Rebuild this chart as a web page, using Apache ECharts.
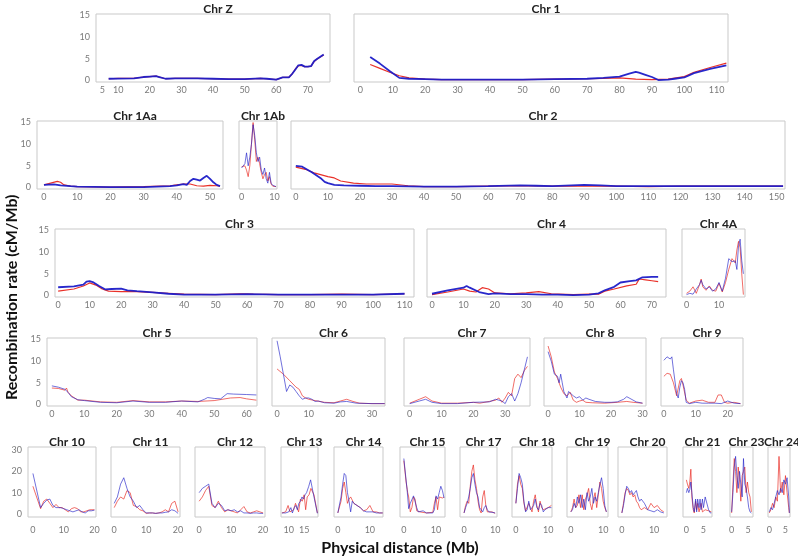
<!DOCTYPE html>
<html><head><meta charset="utf-8">
<script src="https://cdn.jsdelivr.net/npm/echarts@6/dist/echarts.min.js"></script>
<style>html,body{margin:0;padding:0;background:#fff}#c{width:798px;height:559px}</style>
</head><body><div id="c"></div>
<script>
// ---- Data: [position (Mb), recombination rate (cM/Mb)] ----
const chrZ_red  = [[7,0.4],[10,0.5],[15,0.5],[18,0.8],[20,0.9],[22,1.0],[23,0.8],[25,0.4],[28,0.5],[30,0.5],[35,0.5],[40,0.4],[45,0.3],[50,0.3],[55,0.5],[57,0.4],[60,0.2],[62,0.7],[64,0.7],[65,1.5],[66,2.6],[67,3.4],[68,3.5],[69,3.2],[70,3.2],[71,3.3],[72,4.4],[73,5.0],[75,5.9]];
const chrZ_blue = [[7,0.4],[10,0.45],[15,0.5],[18,0.8],[20,0.9],[22,1.0],[23,0.8],[25,0.4],[28,0.5],[30,0.5],[35,0.5],[40,0.4],[45,0.3],[50,0.3],[55,0.5],[57,0.4],[60,0.2],[62,0.7],[64,0.7],[65,1.5],[66,2.5],[67,3.5],[68,3.6],[69,3.2],[70,3.2],[71,3.3],[72,4.5],[73,5.0],[75,6.0]];
const chr1_red  = [[3,3.7],[6,2.8],[9,1.9],[12,1.1],[15,0.6],[20,0.3],[25,0.2],[30,0.2],[40,0.2],[50,0.2],[60,0.3],[70,0.4],[75,0.5],[80,0.6],[85,0.3],[90,0.2],[95,0.3],[100,0.9],[103,1.9],[108,3.0],[113,4.0]];
const chr1_blue = [[3,5.4],[6,3.9],[9,2.2],[12,0.6],[15,0.4],[20,0.3],[25,0.2],[30,0.2],[40,0.2],[50,0.2],[60,0.3],[70,0.4],[75,0.6],[80,0.9],[83,1.6],[85,2.0],[86,1.8],[88,1.3],[90,0.8],[92,0.1],[95,0.2],[97,0.4],[100,0.7],[103,1.7],[108,2.7],[113,3.5]];
const chr1Aa_red  = [[0,0.6],[2,1.0],[4,1.4],[5,1.2],[6,0.6],[8,0.3],[10,0.2],[20,0.1],[30,0.2],[38,0.4],[40,0.6],[42,0.8],[44,0.8],[46,0.4],[48,0.3],[50,0.5],[52,0.4],[53,0.3]];
const chr1Aa_blue = [[0,0.6],[3,0.7],[5,0.5],[8,0.3],[10,0.2],[20,0.1],[30,0.1],[38,0.3],[40,0.5],[42,0.8],[43,0.6],[44,1.5],[45,2.0],[46,1.8],[47,1.6],[48,2.2],[49,2.7],[50,2.0],[51,1.2],[52,0.6],[53,0.3]];
const chr1Ab_red  = [[0,4.8],[1,5.0],[1.5,4],[2,2.5],[2.5,5],[3,10],[3.5,15],[4,11],[4.5,6],[5,7],[5.5,5.5],[6,3.5],[6.5,2],[7,3],[7.5,3.5],[8,1.5],[8.5,2.5],[9,0.8],[9.5,0.3],[10,0.2],[10.5,0.2]];
const chr1Ab_blue = [[0,4.5],[1,5.5],[1.5,8],[2,5],[2.5,7],[3,10],[3.5,14.5],[4,12],[4.5,8],[5,6],[5.5,7],[6,4],[6.5,3],[7,4.5],[7.5,2],[8,1],[8.5,3.5],[9,1],[9.5,0.5],[10,0.2],[10.5,0.2]];
const chr2_red  = [[0,4.7],[3,4.2],[6,3.3],[10,2.5],[12,2.2],[14,1.5],[18,1.0],[22,0.8],[30,0.8],[35,0.4],[40,0.2],[50,0.2],[60,0.3],[70,0.4],[80,0.3],[90,0.3],[100,0.3],[110,0.2],[120,0.3],[130,0.3],[140,0.3],[152,0.3]];
const chr2_blue = [[0,5.0],[2,4.8],[5,3.5],[8,2.0],[9,1.3],[10,1.0],[12,0.6],[15,0.5],[20,0.4],[25,0.3],[30,0.3],[40,0.2],[50,0.2],[60,0.3],[70,0.5],[75,0.4],[80,0.3],[90,0.6],[95,0.5],[100,0.3],[110,0.3],[120,0.3],[130,0.3],[140,0.3],[152,0.3]];
const chr3_red  = [[0,1.0],[5,1.5],[8,2.2],[10,2.9],[12,2.4],[14,1.5],[16,1.0],[20,0.9],[25,0.9],[30,0.7],[35,0.5],[40,0.3],[50,0.2],[58,0.4],[62,0.3],[70,0.2],[80,0.2],[90,0.3],[100,0.2],[110,0.4]];
const chr3_blue = [[0,1.9],[5,2.1],[8,2.5],[9,3.2],[10,3.3],[11,3.1],[13,2.2],[15,1.4],[17,1.5],[20,1.6],[22,1.2],[25,1.0],[30,0.7],[35,0.4],[40,0.2],[50,0.2],[60,0.3],[70,0.2],[80,0.2],[90,0.2],[100,0.2],[110,0.4]];
const chr4_red  = [[0,0.2],[5,0.8],[10,1.5],[12,1.0],[14,0.8],[16,1.8],[18,1.5],[20,0.6],[25,0.4],[30,0.6],[34,0.9],[38,0.4],[45,0.2],[50,0.3],[53,0.3],[55,1.0],[58,1.5],[62,2.2],[65,2.6],[66,3.8],[68,3.6],[70,3.4],[72,3.2]];
const chr4_blue = [[0,0.4],[5,1.2],[10,1.8],[11,2.2],[12,1.8],[15,0.8],[18,0.3],[20,0.5],[25,0.3],[30,0.3],[35,0.2],[40,0.2],[45,0.1],[50,0.2],[53,0.5],[55,1.2],[58,2.0],[60,3.0],[63,3.3],[65,3.5],[67,4.2],[70,4.3],[72,4.3]];
const chr4A_red  = [[0,0.5],[1,1.0],[2,2.0],[3,0.5],[4,2.5],[4.5,3.8],[5,2.0],[6,1.2],[7,2.2],[8,1.2],[9,1.0],[10,2.8],[11,0.8],[12,3.0],[13,6.0],[14,8.5],[15,7.5],[15.5,10.5],[16,12.5],[16.5,11.0],[17,5.0],[17.5,0.2]];
const chr4A_blue = [[0,0.2],[1,0.5],[2,0.3],[3,1.5],[4,2.5],[4.5,3.5],[5,2.5],[6,1.5],[7,2.0],[8,1.0],[9,1.5],[10,3.0],[11,1.0],[12,4.0],[13,8.5],[14,7.8],[15,8.0],[15.5,6.0],[16,11.5],[16.5,13.0],[17,8.0],[17.5,5.0]];
const chr5_red  = [[0,3.8],[2,3.7],[4,3.3],[4.5,3.8],[5,2.8],[6,2.0],[8,1.0],[10,1.0],[15,0.6],[20,0.5],[25,0.9],[30,0.6],[35,0.6],[40,0.8],[45,0.7],[50,0.9],[55,1.5],[58,1.6],[60,1.3],[63,1.0]];
const chr5_blue = [[0,4.3],[2,4.0],[4,3.5],[5,2.8],[6,1.8],[8,1.1],[10,0.9],[15,0.5],[20,0.4],[25,0.8],[30,0.5],[35,0.5],[40,0.8],[45,0.6],[47,1.2],[48,1.6],[50,1.4],[52,1.3],[54,2.5],[56,2.4],[60,2.3],[63,2.2]];
const chr6_red  = [[0,8.2],[2,7.0],[4,5.5],[6,4.0],[7,3.5],[8,2.0],[9,1.5],[10,1.2],[12,0.9],[15,0.5],[18,0.4],[20,0.8],[22,1.2],[24,0.7],[26,0.3],[30,0.2],[34,0.2]];
const chr6_blue = [[0,14.7],[1,11],[2,7],[3,3.0],[4,4.5],[5,4.0],[6,3.0],[7,2.0],[8,1.2],[9,1.5],[10,1.5],[11,1.2],[12,0.7],[13,0.8],[15,0.4],[18,0.3],[20,0.6],[22,0.7],[25,0.3],[30,0.2],[34,0.2]];
const chr7_red  = [[0,0.3],[3,1.2],[5,1.8],[7,0.8],[10,0.3],[15,0.3],[20,0.5],[22,0.3],[25,0.7],[27,1.0],[28,1.5],[29,0.5],[30,1.5],[31,2.8],[32,2.0],[33,6.0],[34,7.0],[35,6.2],[36,7.8],[37,8.8]];
const chr7_blue = [[0,0.2],[3,0.8],[5,1.2],[7,0.5],[10,0.2],[15,0.2],[20,0.5],[25,0.6],[27,1.2],[28,1.0],[29,0.8],[30,0.2],[31,1.8],[32,2.5],[33,0.8],[34,2.5],[35,5.0],[36,8.0],[37,11.0]];
const chr8_red  = [[0,13.5],[1,11],[2,7.5],[3,6],[4,4],[5,2.5],[6,2.0],[7,2.8],[8,1.0],[9,0.5],[10,0.8],[11,1.0],[12,0.5],[14,0.4],[18,0.3],[20,0.4],[22,0.5],[25,0.7],[27,0.5],[30,0.3]];
const chr8_blue = [[0,12.2],[1,10],[2,7],[3,6.5],[3.5,5],[4,7],[4.5,5],[5,3],[6,1.5],[6.5,3],[7,3],[8,2],[9,1.5],[10,1.8],[11,1.0],[12,1.5],[13,1.2],[15,0.7],[18,0.5],[20,0.5],[22,0.6],[24,1.2],[25,1.8],[26,1.4],[28,0.6],[30,0.3]];
const chr9_red  = [[0,6.5],[1,7.2],[2,7.0],[3,5.0],[4,2.0],[5,5.5],[5.5,6.0],[6,4.5],[7,1.0],[8,0.3],[10,0.8],[12,1.0],[14,0.5],[16,0.5],[17,2.2],[18,2.2],[19,0.5],[20,0.3],[22,0.5],[24,0.2]];
const chr9_blue = [[0,10.2],[1,11],[2,10.5],[2.5,11],[3,8],[4,2.5],[4.5,1.5],[5,4.0],[5.5,5.5],[6,5.0],[6.5,3.5],[7,0.5],[8,0.2],[10,0.5],[12,0.3],[14,0.3],[16,0.3],[18,0.2],[20,0.8],[22,0.3],[24,0.2]];
const chr10_red  = [[0,13],[2.5,2.5],[3.5,6],[4.5,7],[5.5,5],[6.5,3],[7.5,4.5],[8.5,3],[9.5,3],[10.5,2],[11.5,1],[12.5,2.5],[13.5,3],[14.5,2.5],[15.5,1],[16.5,1],[17.5,1.5],[18.5,2],[20,2]];
const chr10_blue = [[0,19],[2.5,3],[3.5,5],[4.5,6.5],[5.5,7],[6.5,4],[7.5,3],[9,3],[10,2.5],[11,2],[12,1.5],[13,1],[14,1.5],[15,2],[16,1],[17,0.5],[18,1.5],[19,1.5],[20,1.8]];
const chr11_red  = [[0,3],[1,6],[2,8],[3,7],[4,11],[5,10],[6,4],[7,3.5],[8,2],[9,1.5],[10,0.3],[11,0.5],[12,0.5],[13,0.3],[14,0.5],[15,1],[16,2],[17,1],[18,5],[19,6],[20,1]];
const chr11_blue = [[0,5],[1,8],[2,14],[3,17],[4,12],[5,8],[6,6],[7,3],[8,4],[9,2],[10,0.5],[11,0.5],[12,0.5],[13,0.3],[14,0.5],[15,0.5],[16,0.8],[17,1],[18,2],[19,1.5],[20,0.3]];
const chr12_red  = [[0,6],[1,8],[2,11],[3,13],[4,4],[5,3],[6,6],[7,3],[8,1],[9,2],[10,1.5],[11,1],[12,0.5],[13,2],[14,3.5],[15,1],[16,0.5],[17,1],[18,1.5],[19,1],[20,0.5]];
const chr12_blue = [[0,10],[1,12],[2,13],[3,14],[4,5],[5,3],[6,5],[7,4],[8,1.5],[9,2],[10,1.5],[11,2],[12,1],[13,1.5],[14,0.5],[15,0.5],[16,0.3],[17,0.5],[18,0.5],[19,0.3],[20,0.3]];
const chr13_red  = [[7.8,0.5],[9,1],[9.8,4],[10.4,1],[11,0.5],[11.6,2],[12.2,5],[12.7,3],[13.2,1],[13.8,7],[14.4,6],[15,9],[15.5,2],[16,8],[16.6,9],[17.2,12],[18.2,9],[19.3,0.5]];
const chr13_blue = [[7.8,0.5],[9,0.5],[10,1],[10.7,3],[11.2,0.5],[11.8,3],[12.3,4],[12.8,2],[13.3,5],[13.8,6],[14.3,8],[14.8,7],[15.3,9],[15.8,10],[16.5,13],[17.1,16],[18.2,8],[19.3,0.3]];
const chr14_red  = [[0,0.5],[1,6],[1.5,12],[2,15],[2.5,10],[3,5],[3.5,7],[4,8],[5,5],[6,4],[7,3],[8,1.5],[9,2],[10,4],[11,1],[12,1],[13,0.5],[14,0.5]];
const chr14_blue = [[0,0.5],[1,8],[1.5,14],[2,19],[2.5,18],[3,10],[3.5,6],[4,1],[4.5,6],[5,5],[6,4],[7,3],[8,1.5],[9,1],[10,1],[11,1],[12,0.5],[13,0.5],[14,0.5]];
const chr15_red  = [[0,25],[0.7,15],[1.2,10],[1.5,8],[2,1],[2.5,3],[3,8],[3.5,7],[4,1.5],[4.5,1],[5,1],[7,0.5],[9,0.8],[9.5,5],[10,8],[10.5,2],[11,8],[11.5,8],[12,7.5],[12.5,8]];
const chr15_blue = [[0,26],[1,11.5],[1.5,2.5],[2,5],[3,8.5],[4,3],[4.5,1],[5,0.8],[6,1.5],[7,0.5],[8,0.5],[9,0.5],[9.5,2],[10,8.5],[10.5,7],[11,10],[11.5,13],[12,11],[12.5,7.5]];
const chr17_red  = [[0,0.5],[0.5,4],[1,6],[1.5,5],[2,13],[2.5,20],[3,23],[3.5,16],[4,12],[4.5,6],[5,2],[5.5,0.5],[6,8],[6.5,11],[7,4],[7.5,1],[8,1.5],[9,1],[10,0.3]];
const chr17_blue = [[0,0.5],[0.5,3],[1,5],[1.5,8],[2,12],[2.5,17],[3,19],[3.5,14],[4,10],[4.5,8],[5,3],[5.5,3],[6,1],[6.5,3],[7,4],[7.5,2],[8,1],[9,0.8],[10,0.5]];
const chr18_red  = [[0,5],[0.5,14],[1,18],[1.5,14],[2,12],[2.5,5],[3,1.5],[3.5,2],[4,5],[4.5,3],[5,1],[5.5,6],[6,9],[6.5,4],[7,1],[7.5,6],[8,3],[8.5,2],[9,2],[10,3],[11,4]];
const chr18_blue = [[0,5],[0.5,12],[1,19],[1.5,17],[2,14],[2.5,6],[3,1],[3.5,2],[4,6],[4.5,2],[5,1.5],[5.5,4],[6,7],[6.5,3],[7,2],[7.5,5],[8,4],[8.5,1],[9,2],[10,3],[11,3]];
const chr19_red  = [[0,1],[0.5,3],[1,7],[1.5,3],[2,4],[2.5,9],[3,3],[3.5,9],[4,2],[4.5,7],[5,9],[5.5,12],[6,5],[6.5,2],[7,7],[7.5,10],[8,3],[8.5,9],[9,15],[9.5,12],[10,6],[10.5,3],[11,1]];
const chr19_blue = [[0,1],[0.5,2],[1,5],[1.5,3],[2,8],[2.5,5],[3,9],[3.5,3],[4,7],[4.5,2],[5,10],[5.5,6],[6,8],[6.5,12],[7,5],[7.5,8],[8,6],[8.5,10],[9,14],[9.5,17],[10,12],[10.5,4],[11,1]];
const chr20_red  = [[0,0.5],[0.5,5],[1,10],[1.5,12],[2,11],[2.5,9],[3,10],[3.5,8],[4,9],[4.5,6],[5,5],[5.5,3],[6,2],[7,3],[8,2],[9,5],[10,3],[11,4],[12,2],[13,1]];
const chr20_blue = [[0,0.5],[0.5,4],[1,9],[1.5,13],[2,12],[2.5,10],[3,11],[3.5,9],[4,10],[4.5,11],[5,8],[5.5,6],[6,7],[7,5],[8,2],[9,1.5],[10,1],[11,2],[12,1],[13,0.5]];
const chr21_red  = [[0,16],[0.3,14],[0.7,12],[1,15],[1.3,21],[1.6,8],[2,2],[2.3,0.5],[2.7,6],[3,2],[3.3,5],[3.7,1],[4,3],[4.3,5],[4.7,1],[5,1],[5.5,2],[6,1.5],[6.5,1.5],[7,1],[7.3,1]];
const chr21_blue = [[0,10],[0.3,12],[0.7,10],[1,11.5],[1.3,15],[1.6,10],[2,3],[2.3,1],[2.7,7],[3,1],[3.3,7],[3.7,3],[4,7],[4.3,2],[4.7,7],[5,3],[5.5,8],[6,8],[6.5,2],[7,0.5],[7.3,0.5]];
const chr23_red  = [[0,0.5],[0.4,14],[0.8,26],[1.2,20],[1.6,10],[2,22],[2.4,16],[2.8,6],[3.2,18],[3.6,20],[4,22],[4.4,10],[4.8,15],[5.2,10],[5.6,8],[6,1]];
const chr23_blue = [[0,1],[0.4,10],[0.8,22],[1.2,27],[1.6,18],[2,12],[2.4,20],[2.8,14],[3.2,8],[3.6,26],[4,14],[4.4,12],[4.8,8],[5.2,3],[5.6,1],[6,0.5]];
const chr24_red  = [[0,0.5],[0.5,2],[1,5],[1.5,3],[2,8],[2.5,6],[3,27],[3.5,10],[4,15],[4.5,9],[5,18],[5.5,10],[6,3],[6.2,0.5]];
const chr24_blue = [[0,1],[0.5,3],[1,2],[1.5,5],[2,8],[2.5,11],[3,9],[3.5,12],[4,10],[4.5,16],[5,14],[5.5,17],[6,8],[6.2,0.5]];

// tick labels
const ticksY15 = [0,5,10,15];
const ticksY30 = [0,10,20,30];
const ticksZ = [5,10,20,30,40,50,60,70];
const ticks0to110 = [0,10,20,30,40,50,60,70,80,90,100,110];
const ticks0to50 = [0,10,20,30,40,50];
const ticks0to150 = [0,10,20,30,40,50,60,70,80,90,100,110,120,130,140,150];
const ticks0to70 = [0,10,20,30,40,50,60,70];
const ticks0to60 = [0,10,20,30,40,50,60];
const ticks0to30 = [0,10,20,30];
const ticks0to20 = [0,10,20];
const ticks0to10 = [0,10];
const ticks0to5 = [0,5];
const ticks10to15 = [10,15];

// ---- Layout (positions/styles only) ----
// name, red, blue, xmin, xmax, xticks, left, top, width, height, row, showY
const R1 = 14, R2 = 121, R3 = 229, R4 = 338, R5 = 447;
const panels = [
  ['Chr Z', chrZ_red, chrZ_blue, 3, 77, ticksZ, 96, R1, 234, 68, 1, true],
  ['Chr 1', chr1_red, chr1_blue, -2, 113.5, ticks0to110, 354, R1, 374, 68, 1, false],
  ['Chr 1Aa', chr1Aa_red, chr1Aa_blue, -2.1, 53.9, ticks0to50, 37, R2, 186, 68, 2, true],
  ['Chr 1Ab', chr1Ab_red, chr1Ab_blue, -0.8, 10.8, ticks0to10, 239, R2, 38, 68, 2, false],
  ['Chr 2', chr2_red, chr2_blue, -1.5, 152.6, ticks0to150, 291, R2, 494, 68, 2, false],
  ['Chr 3', chr3_red, chr3_blue, -1, 113, ticks0to110, 55, R3, 359, 68, 3, true],
  ['Chr 4', chr4_red, chr4_blue, -1.6, 74.5, ticks0to70, 427, R3, 239, 68, 3, false],
  ['Chr 4A', chr4A_red, chr4A_blue, -1.4, 18, ticks0to10, 682, R3, 63, 68, 3, false],
  ['Chr 5', chr5_red, chr5_blue, -1.5, 63.2, ticks0to60, 47, R4, 210, 68, 4, true],
  ['Chr 6', chr6_red, chr6_blue, -1.6, 34.1, ticks0to30, 272, R4, 113, 68, 4, false],
  ['Chr 7', chr7_red, chr7_blue, -1.8, 37.8, ticks0to30, 404, R4, 126, 68, 4, false],
  ['Chr 8', chr8_red, chr8_blue, -1.3, 31.1, ticks0to30, 544, R4, 102, 68, 4, false],
  ['Chr 9', chr9_red, chr9_blue, -0.9, 24.8, ticks0to20, 661, R4, 82, 68, 4, false],
  ['Chr 10', chr10_red, chr10_blue, -1.6, 20.5, ticks0to20, 28, R5, 68, 70, 5, true],
  ['Chr 11', chr11_red, chr11_blue, -1, 20.6, ticks0to20, 111, R5, 69, 70, 5, false],
  ['Chr 12', chr12_red, chr12_blue, -1.3, 20.6, ticks0to20, 195, R5, 70, 70, 5, false],
  ['Chr 13', chr13_red, chr13_blue, 7.5, 19.5, ticks10to15, 281, R5, 37, 70, 5, false],
  ['Chr 14', chr14_red, chr14_blue, -1.2, 14.1, ticks0to10, 334, R5, 49, 70, 5, false],
  ['Chr 15', chr15_red, chr15_blue, -1.2, 12.8, ticks0to10, 400, R5, 45, 70, 5, false],
  ['Chr 17', chr17_red, chr17_blue, -1.3, 10.6, ticks0to10, 460, R5, 37, 70, 5, false],
  ['Chr 18', chr18_red, chr18_blue, -1.2, 11.2, ticks0to10, 512, R5, 40, 70, 5, false],
  ['Chr 19', chr19_red, chr19_blue, -1.2, 11.5, ticks0to10, 567, R5, 41, 70, 5, false],
  ['Chr 20', chr20_red, chr20_blue, -1.2, 14, ticks0to10, 618, R5, 49, 70, 5, false],
  ['Chr 21', chr21_red, chr21_blue, -1, 7.5, ticks0to5, 683, R5, 29, 70, 5, false],
  ['Chr 23', chr23_red, chr23_blue, -0.5, 6.5, ticks0to5, 730, R5, 23, 70, 5, false],
  ['Chr 24', chr24_red, chr24_blue, -0.4, 6.4, ticks0to5, 768, R5, 22, 70, 5, false]
];

const FONT = 'Lato, "Open Sans", sans-serif';
const grids = [], xAxes = [], yAxes = [], series = [], titles = [];
panels.forEach((p, i) => {
  const [name, red, blue, xmin, xmax, xt, left, top, width, height, row, showY] = p;
  const big = row <= 3 && width > 150;
  const y30 = row === 5;
  grids.push({left, top, width, height, show: true, borderColor: '#c9c9c9', borderWidth: 1, containLabel: false});
  xAxes.push({gridIndex: i, type: 'value', min: xmin, max: xmax,
    axisLine: {show: false}, axisTick: {show: false}, splitLine: {show: false},
    axisLabel: {customValues: xt, color: '#7a7a7a', fontSize: 9, fontFamily: FONT, margin: y30 ? 9 : 4, hideOverlap: false}});
  yAxes.push({gridIndex: i, type: 'value', min: y30 ? -1.4 : -0.35, max: y30 ? 31.4 : 15.35,
    axisLine: {show: false}, axisTick: {show: false}, splitLine: {show: false},
    axisLabel: {show: showY, customValues: y30 ? ticksY30 : ticksY15, color: '#7a7a7a', fontSize: 9, fontFamily: FONT, margin: 6}});
  titles.push({text: name, left: Math.min(left + width / 2, 777), top: top - 16, textAlign: 'center',
    textStyle: {fontSize: 12, fontWeight: 'bold', color: '#222', fontFamily: FONT}});
  series.push({type: 'line', xAxisIndex: i, yAxisIndex: i, data: red, symbol: 'none', silent: true,
    lineStyle: {color: '#e8261e', width: big ? 1.2 : 0.9, opacity: big ? 0.95 : 0.75}, z: 2});
  series.push({type: 'line', xAxisIndex: i, yAxisIndex: i, data: blue, symbol: 'none', silent: true,
    lineStyle: {color: '#1c1cc8', width: big ? 1.8 : 0.9, opacity: big ? 0.95 : 0.7}, z: 3});
});

const chart = echarts.init(document.getElementById('c'), null, {renderer: 'canvas'});
chart.setOption({
  animation: false,
  backgroundColor: '#fff',
  title: titles,
  grid: grids, xAxis: xAxes, yAxis: yAxes, series,
  graphic: [
    {type: 'text', rotation: Math.PI / 2, x: 4, y: 400,
      style: {text: 'Recombination rate (cM/Mb)', font: 'bold 16px ' + FONT, fill: '#111'}},
    {type: 'text', x: 400, y: 548,
      style: {text: 'Physical distance (Mb)', font: 'bold 16px ' + FONT, fill: '#111', textAlign: 'center', textVerticalAlign: 'middle'}}
  ]
});
</script></body></html>
